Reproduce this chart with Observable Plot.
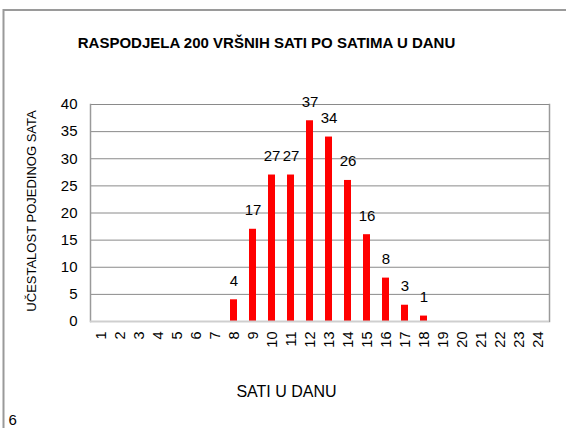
<!DOCTYPE html>
<html>
<head>
<meta charset="utf-8">
<script src="https://cdn.jsdelivr.net/npm/d3@7"></script>
<script src="https://cdn.jsdelivr.net/npm/@observablehq/plot@0.6"></script>
<style>
  html, body { margin: 0; padding: 0; background: #fff; }
  #chart svg { display: block; }
</style>
</head>
<body>
<div id="chart"></div>
<script>
const title = "RASPODJELA 200 VRŠNIH SATI PO SATIMA U DANU";
const yLabel = "UČESTALOST POJEDINOG SATA";
const xLabel = "SATI U DANU";
const pageNumber = "6";
const hours = [1,2,3,4,5,6,7,8,9,10,11,12,13,14,15,16,17,18,19,20,21,22,23,24];
const barHours = [8,9,10,11,12,13,14,15,16,17,18];
const counts = [4,17,27,27,37,34,26,16,8,3,1];
const yTicks = [0,5,10,15,20,25,30,35,40];

const data = barHours.map((h, i) => ({hour: h, count: counts[i]}));
const font = "'Liberation Sans', Arial, sans-serif";

const plot = Plot.plot({
  width: 566,
  height: 428,
  marginLeft: 90,
  marginRight: 17,
  marginTop: 104,
  marginBottom: 107,
  style: {fontFamily: font, background: "#fff", color: "#000"},
  x: {type: "band", domain: hours, paddingInner: 0.62, paddingOuter: 0.31, label: null},
  y: {domain: [0, 40], label: null},
  marks: [
    Plot.gridY(yTicks.filter(d => d > 0), {stroke: "#8a8a8a", strokeOpacity: 1, strokeWidth: 1}),
    Plot.frame({anchor: "left", stroke: "#9a9a9a", strokeWidth: 1.5}),
    Plot.frame({anchor: "right", stroke: "#9a9a9a", strokeWidth: 1.5}),
    Plot.barY(data, {x: "hour", y: "count", fill: "#ff0000"}),
    Plot.ruleY([0], {stroke: "#cfcfcf", strokeWidth: 2}),
    Plot.text(data, {x: "hour", y: "count", text: d => String(d.count), lineAnchor: "bottom", dy: -14, fontSize: 15, fill: "#000"}),
    Plot.axisY({ticks: yTicks, tickSize: 0, tickPadding: 13, fontSize: 15, label: null}),
    Plot.axisX({tickSize: 0, tickRotate: -90, tickPadding: 10, fontSize: 14.5, label: null}),
    Plot.text([title], {frameAnchor: "top-left", dx: 176, dy: -57, fontSize: 15, fontWeight: "bold", textAnchor: "middle", lineAnchor: "bottom"}),
    Plot.text([yLabel], {frameAnchor: "left", dx: -59, dy: -2, rotate: -90, fontSize: 13, textAnchor: "middle"}),
    Plot.text([xLabel], {frameAnchor: "bottom-left", dx: 196, dy: 75, fontSize: 16, textAnchor: "middle", lineAnchor: "bottom"}),
    Plot.text([pageNumber], {frameAnchor: "bottom-left", dx: -82, dy: 103, fontSize: 15, textAnchor: "start", lineAnchor: "bottom"})
  ]
});

d3.select(plot).insert("rect", ":first-child")
  .attr("x", 3.5).attr("y", 10).attr("width", 700).attr("height", 600)
  .attr("fill", "none").attr("stroke", "#9a9a9a").attr("stroke-width", 2);

document.getElementById("chart").appendChild(plot);
</script>
</body>
</html>
